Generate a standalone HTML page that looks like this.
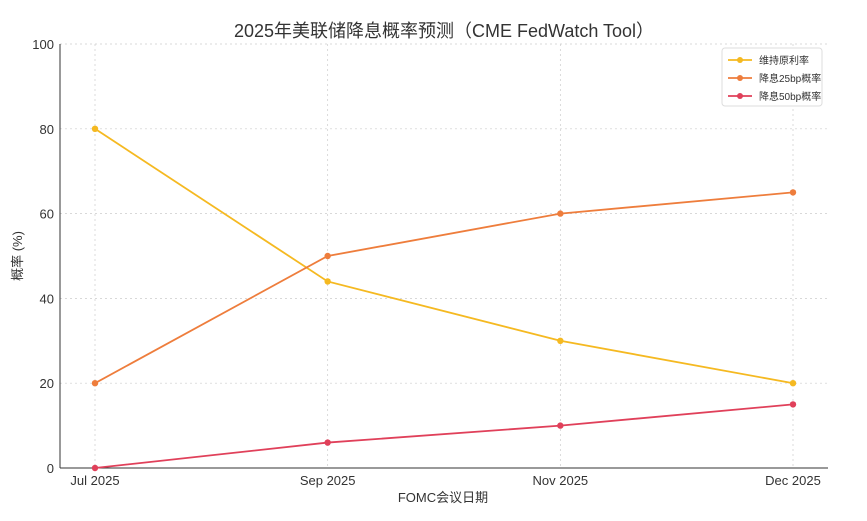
<!DOCTYPE html>
<html><head><meta charset="utf-8"><style>
body{margin:0;background:#fff;font-family:"Liberation Sans","Noto Sans CJK SC",sans-serif;}
svg text{font-family:"Liberation Sans","Noto Sans CJK SC",sans-serif;fill:#333;}
</style></head><body>
<svg width="867" height="516">
<text x="444" y="37" font-size="18" text-anchor="middle">2025年美联储降息概率预测（CME FedWatch Tool）</text>
<g id="grid"></g><g id="axes"></g><g id="series"></g>
<text x="443" y="502" font-size="13" text-anchor="middle">FOMC会议日期</text>
<text transform="translate(22,256) rotate(-90)" font-size="13" text-anchor="middle">概率 (%)</text>
<g id="legend">
<rect x="722" y="48" width="100" height="58" fill="#fff" stroke="#ddd" rx="3"/>
</g>
</svg>
<script>
const categories=["Jul 2025","Sep 2025","Nov 2025","Dec 2025"];
const holdValues=[80,44,30,20];
const cut25Values=[20,50,60,65];
const cut50Values=[0,6,10,15];
const seriesNames=["维持原利率","降息25bp概率","降息50bp概率"];
const yTicks=[0,20,40,60,80,100];
const NS="http://www.w3.org/2000/svg";
const L=60,R=828,T=44,B=468,x0=95,x1=793;
const xs=i=>x0+i*(x1-x0)/(categories.length-1);
const ys=v=>B-(v/100)*(B-T);
function mk(tag,at,parent){const e=document.createElementNS(NS,tag);for(const k in at)e.setAttribute(k,at[k]);document.getElementById(parent).appendChild(e);return e;}
yTicks.forEach(v=>{
 const g=mk("line",{x1:L,x2:R,y1:ys(v),y2:ys(v),stroke:"#ccc","stroke-dasharray":"2,3","stroke-width":0.7},"grid");
 
 
 const t=mk("text",{x:L-6,y:ys(v)+5,"font-size":13,"text-anchor":"end"},"axes");t.textContent=v;
 
 
});
categories.forEach((c,i)=>{
 const g=mk("line",{x1:xs(i),x2:xs(i),y1:T,y2:B,stroke:"#ccc","stroke-dasharray":"2,3","stroke-width":0.7},"grid");
 
 
 const t=mk("text",{x:xs(i),y:B+17,"font-size":13,"text-anchor":"middle"},"axes");t.textContent=c;
 
 
});
const ax1=mk("line",{x1:L,x2:L,y1:T,y2:B,stroke:"#333"},"axes");


const ax2=mk("line",{x1:L,x2:R,y1:B,y2:B,stroke:"#333"},"axes");


const all=[holdValues,cut25Values,cut50Values];
const colors=["#f5b921","#ee7d3c","#e0405a"];
all.forEach((vals,s)=>{
 const p=mk("polyline",{points:vals.map((v,i)=>xs(i)+","+ys(v)).join(" "),fill:"none",stroke:colors[s],"stroke-width":1.8},"series");
 
 
 vals.forEach((v,i)=>{
  const c=mk("circle",{cx:xs(i),cy:ys(v),r:3.2,fill:colors[s]},"series");
  
  
 });
 const y=60+s*18;
 const ll=mk("line",{x1:728,x2:752,y1:y,y2:y,stroke:colors[s],"stroke-width":1.8},"legend");
 
 
 mk("circle",{cx:740,cy:y,r:3,fill:colors[s]},"legend");
 const t=mk("text",{x:759,y:y+4,"font-size":10},"legend");t.textContent=seriesNames[s];
 
 
});
</script>
</body></html>
